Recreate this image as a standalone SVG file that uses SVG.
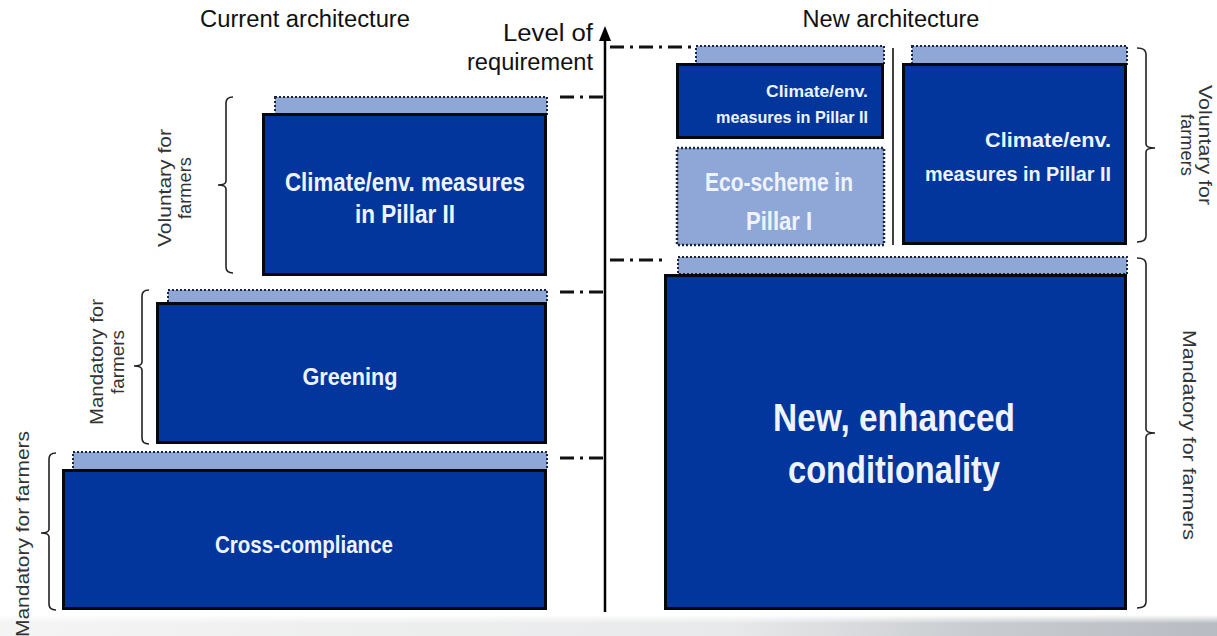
<svg xmlns="http://www.w3.org/2000/svg" width="1217" height="636" viewBox="0 0 1217 636">
<style>
.title{font-family:"Liberation Sans",Arial,sans-serif;font-size:23px;fill:#111;}
.side{font-family:"Liberation Sans",Arial,sans-serif;font-size:19px;fill:#333;}
.lbl{font-family:"Liberation Sans",Arial,sans-serif;font-weight:bold;fill:#eef3ff;}
.dark{fill:#02369c;stroke:#05080f;stroke-width:3;}
.strip{fill:#8fa7d7;stroke:#1c2340;stroke-width:2;stroke-dasharray:2 2;}
.eco{fill:#8fa7d7;stroke:#1c2340;stroke-width:2.5;stroke-dasharray:2 2;}
.dd{stroke:#111;stroke-width:3;fill:none;stroke-dasharray:14 6 3 6;}
.br{stroke:#222;stroke-width:1.6;fill:none;}
</style>
<defs>
<linearGradient id="band" x1="0" y1="0" x2="1" y2="0">
<stop offset="0" stop-color="#f4f4f4"/>
<stop offset="0.6" stop-color="#e8e9ea"/>
<stop offset="0.8" stop-color="#c9ccd0"/>
<stop offset="1" stop-color="#b8bcc2"/>
</linearGradient>
<linearGradient id="bandv" x1="0" y1="0" x2="0" y2="1">
<stop offset="0" stop-color="#fff" stop-opacity="1"/>
<stop offset="0.4" stop-color="#fff" stop-opacity="0"/>
</linearGradient>
</defs>
<rect x="0" y="0" width="1217" height="636" fill="#fff"/>
<rect x="0" y="615" width="1217" height="21" fill="url(#band)"/>
<rect x="0" y="615" width="1217" height="21" fill="url(#bandv)"/>

<g id="titles">
<text class="title" x="305" y="27" text-anchor="middle" textLength="210" lengthAdjust="spacingAndGlyphs">Current architecture</text>
<text class="title" x="891" y="27" text-anchor="middle" textLength="177" lengthAdjust="spacingAndGlyphs">New architecture</text>
<text class="title" x="593" y="41" text-anchor="end" textLength="90" lengthAdjust="spacingAndGlyphs">Level of</text>
<text class="title" x="593" y="70" text-anchor="end" textLength="126" lengthAdjust="spacingAndGlyphs">requirement</text>
</g>

<g id="connectors">
<line x1="605" y1="612" x2="605" y2="38" stroke="#000" stroke-width="2.5"/>
<polygon points="605,26 599,41 611,41" fill="#000"/>
<line class="dd" x1="560" y1="97" x2="604" y2="97"/>
<line class="dd" x1="560" y1="292" x2="604" y2="292"/>
<line class="dd" x1="560" y1="458" x2="604" y2="458"/>
<line class="dd" x1="610" y1="47" x2="693" y2="47"/>
<line class="dd" x1="610" y1="260" x2="666" y2="260"/>
<line x1="893" y1="48" x2="893" y2="245" stroke="#111" stroke-width="1.6"/>
</g>

<g id="brackets">
<path class="br" d="M233,97 Q226,97 226,103 L226,181 Q226,185 218,185 Q226,185 226,189 L226,267 Q226,273 233,273"/>
<path class="br" d="M149,290 Q142,290 142,296 L142,362 Q142,366 134,366 Q142,366 142,370 L142,438 Q142,444 149,444"/>
<path class="br" d="M56,453 Q49,453 49,459 L49,529 Q49,533 41,533 Q49,533 49,537 L49,604 Q49,610 56,610"/>
<path class="br" d="M1137,48 Q1146,48 1146,54 L1146,144 Q1146,148 1155,148 Q1146,148 1146,152 L1146,236 Q1146,242 1137,242"/>
<path class="br" d="M1137,258 Q1146,258 1146,264 L1146,429 Q1146,433 1155,433 Q1146,433 1146,437 L1146,602 Q1146,608 1137,608"/>
</g>

<g id="side-labels">
<g transform="translate(164,188) rotate(-90)">
<text class="side" x="0" y="0" dy="0.35em" text-anchor="middle" textLength="118" lengthAdjust="spacingAndGlyphs">Voluntary for</text>
<text class="side" x="0" y="20" dy="0.35em" text-anchor="middle" textLength="62" lengthAdjust="spacingAndGlyphs">farmers</text>
</g>
<g transform="translate(96,362) rotate(-90)">
<text class="side" x="0" y="0" dy="0.35em" text-anchor="middle" textLength="126" lengthAdjust="spacingAndGlyphs">Mandatory for</text>
<text class="side" x="0" y="21" dy="0.35em" text-anchor="middle" textLength="64" lengthAdjust="spacingAndGlyphs">farmers</text>
</g>
<g transform="translate(22,534) rotate(-90)">
<text class="side" x="0" y="0" dy="0.35em" text-anchor="middle" textLength="206" lengthAdjust="spacingAndGlyphs">Mandatory for farmers</text>
</g>
<g transform="translate(1206,145) rotate(90)">
<text class="side" x="0" y="0" dy="0.35em" text-anchor="middle" textLength="120" lengthAdjust="spacingAndGlyphs">Voluntary for</text>
<text class="side" x="0" y="18" dy="0.35em" text-anchor="middle" textLength="62" lengthAdjust="spacingAndGlyphs">farmers</text>
</g>
<g transform="translate(1190,435) rotate(90)">
<text class="side" x="0" y="0" dy="0.35em" text-anchor="middle" textLength="210" lengthAdjust="spacingAndGlyphs">Mandatory for farmers</text>
</g>
</g>

<g id="current-climate">
<rect class="strip" x="275" y="97" width="272" height="17"/>
<rect class="dark" x="263.5" y="114.5" width="282" height="160"/>
<text class="lbl" x="405" y="191" font-size="25" text-anchor="middle" textLength="240" lengthAdjust="spacingAndGlyphs">Climate/env. measures</text>
<text class="lbl" x="405" y="223" font-size="25" text-anchor="middle" textLength="100" lengthAdjust="spacingAndGlyphs">in Pillar II</text>
</g>

<g id="greening">
<rect class="strip" x="168" y="290" width="379" height="13"/>
<rect class="dark" x="157.5" y="303.5" width="388" height="139"/>
<text class="lbl" x="350" y="385" font-size="24" text-anchor="middle" textLength="95" lengthAdjust="spacingAndGlyphs">Greening</text>
</g>

<g id="cross-compliance">
<rect class="strip" x="73" y="452" width="474" height="18"/>
<rect class="dark" x="63.5" y="470.5" width="482" height="138"/>
<text class="lbl" x="304" y="553" font-size="24" text-anchor="middle" textLength="178" lengthAdjust="spacingAndGlyphs">Cross-compliance</text>
</g>

<g id="new-climate-small">
<rect class="strip" x="696" y="46" width="188" height="18"/>
<rect class="dark" x="677.5" y="64.5" width="205" height="73"/>
<text class="lbl" x="868" y="97" font-size="17" text-anchor="end" textLength="102" lengthAdjust="spacingAndGlyphs">Climate/env.</text>
<text class="lbl" x="868" y="123" font-size="17" text-anchor="end" textLength="152" lengthAdjust="spacingAndGlyphs">measures in Pillar II</text>
</g>

<g id="eco-scheme">
<rect class="eco" x="677" y="148" width="207" height="97"/>
<text class="lbl" x="779" y="191" font-size="25" text-anchor="middle" textLength="148" lengthAdjust="spacingAndGlyphs">Eco-scheme in</text>
<text class="lbl" x="779" y="230" font-size="25" text-anchor="middle" textLength="66" lengthAdjust="spacingAndGlyphs">Pillar I</text>
</g>

<g id="new-climate-large">
<rect class="strip" x="912" y="46" width="215" height="18"/>
<rect class="dark" x="903.5" y="64.5" width="222" height="179"/>
<text class="lbl" x="1111" y="147" font-size="21" text-anchor="end" textLength="126" lengthAdjust="spacingAndGlyphs">Climate/env.</text>
<text class="lbl" x="1111" y="181" font-size="21" text-anchor="end" textLength="186" lengthAdjust="spacingAndGlyphs">measures in Pillar II</text>
</g>

<g id="conditionality">
<rect class="strip" x="678" y="257" width="449" height="17"/>
<rect class="dark" x="665.5" y="275.5" width="460" height="333"/>
<text class="lbl" x="894" y="431" font-size="38" text-anchor="middle" textLength="242" lengthAdjust="spacingAndGlyphs">New, enhanced</text>
<text class="lbl" x="894" y="483" font-size="38" text-anchor="middle" textLength="212" lengthAdjust="spacingAndGlyphs">conditionality</text>
</g>
</svg>
